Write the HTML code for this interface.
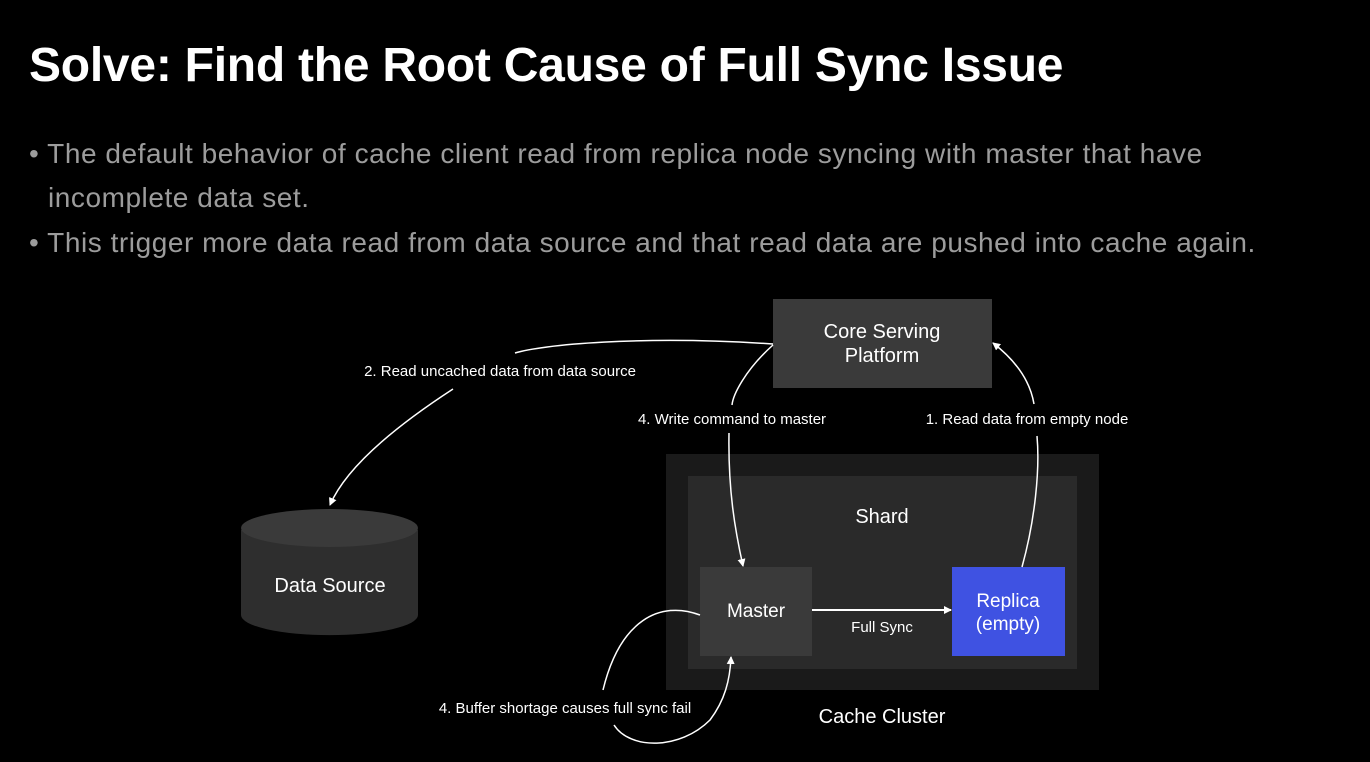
<!DOCTYPE html>
<html><head><meta charset="utf-8"><style>
body{margin:0;width:1370px;height:762px;background:#000;overflow:hidden;font-family:"Liberation Sans",sans-serif;position:relative}
.t{position:absolute;left:29px;top:42px;color:#fff;font-size:48px;line-height:1;font-weight:bold;white-space:nowrap;letter-spacing:-0.25px}
.b{position:absolute;color:#9c9c9c;font-size:28px;white-space:nowrap;letter-spacing:0.55px;line-height:1}
</style></head><body>
<div class="t">Solve: Find the Root Cause of Full Sync Issue</div>
<div class="b" style="left:29px;top:140px">• The default behavior of cache client read from replica node syncing with master that have</div>
<div class="b" style="left:48px;top:184px">incomplete data set.</div>
<div class="b" style="left:29px;top:229px">• This trigger more data read from data source and that read data are pushed into cache again.</div>
<svg width="1370" height="762" style="position:absolute;left:0;top:0" font-family="Liberation Sans, sans-serif">
<defs><marker id="a" markerWidth="8" markerHeight="8" refX="7" refY="4" orient="auto" markerUnits="userSpaceOnUse"><path d="M0,0 L8,4 L0,8 z" fill="#fff"/></marker></defs>
<rect x="773" y="299" width="219" height="89" fill="#3a3a3a"/>
<text x="882" y="338" fill="#fff" font-size="20" text-anchor="middle">Core Serving</text>
<text x="882" y="362" fill="#fff" font-size="20" text-anchor="middle">Platform</text>
<rect x="666" y="454" width="433" height="236" fill="#1a1a1a"/>
<rect x="688" y="476" width="389" height="193" fill="#2a2a2a"/>
<text x="882" y="523" fill="#fff" font-size="20" text-anchor="middle">Shard</text>
<rect x="700" y="567" width="112" height="89" fill="#3a3a3a"/>
<text x="756" y="617" fill="#fff" font-size="19" text-anchor="middle">Master</text>
<rect x="952" y="567" width="113" height="89" fill="#3f52e2"/>
<text x="1008" y="607" fill="#fff" font-size="19" text-anchor="middle">Replica</text>
<text x="1008" y="630" fill="#fff" font-size="19" text-anchor="middle">(empty)</text>
<text x="882" y="723" fill="#fff" font-size="20" text-anchor="middle">Cache Cluster</text>
<path d="M241,530 L241,615 A88,20 0 0 0 418,615 L418,530 Z" fill="#2e2e2e"/>
<ellipse cx="329.5" cy="528" rx="88.5" ry="19" fill="#3a3a3a"/>
<text x="330" y="592" fill="#fff" font-size="20" text-anchor="middle">Data Source</text>
<line x1="812" y1="610" x2="951" y2="610" stroke="#fff" stroke-width="2" marker-end="url(#a)"/>
<text x="882" y="632" fill="#fff" font-size="15" text-anchor="middle">Full Sync</text>
<path d="M773,344 C640,335 540,345 515,353" fill="none" stroke="#fff" stroke-width="1.5"/>
<path d="M453,389 C390,430 345,470 330,505" fill="none" stroke="#fff" stroke-width="1.5" marker-end="url(#a)"/>
<text x="500" y="376" fill="#fff" font-size="15" text-anchor="middle">2. Read uncached data from data source</text>
<path d="M773,345 C745,370 733,395 732,405" fill="none" stroke="#fff" stroke-width="1.5"/>
<path d="M729,433 C728,490 735,530 743,566" fill="none" stroke="#fff" stroke-width="1.5" marker-end="url(#a)"/>
<text x="732" y="424" fill="#fff" font-size="15" text-anchor="middle">4. Write command to master</text>
<path d="M1022,567 C1035,520 1040,470 1037,436" fill="none" stroke="#fff" stroke-width="1.5"/>
<path d="M1034,404 C1030,380 1015,360 993,343" fill="none" stroke="#fff" stroke-width="1.5" marker-end="url(#a)"/>
<text x="1027" y="424" fill="#fff" font-size="15" text-anchor="middle">1. Read data from empty node</text>
<path d="M700,615 C660,600 620,620 603,690" fill="none" stroke="#fff" stroke-width="1.5"/>
<path d="M614,725 C630,750 680,750 710,720 C725,700 730,680 731,657" fill="none" stroke="#fff" stroke-width="1.5" marker-end="url(#a)"/>
<text x="565" y="713" fill="#fff" font-size="15" text-anchor="middle">4. Buffer shortage causes full sync fail</text>
</svg>
</body></html>
